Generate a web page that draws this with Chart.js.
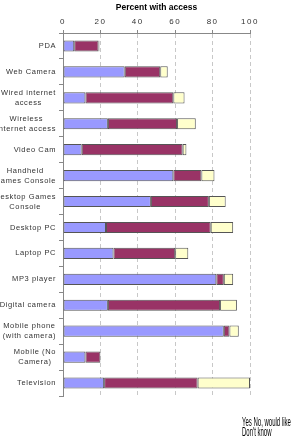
<!DOCTYPE html>
<html lang="en">
<head>
<meta charset="UTF-8" />
<title>Percent with access</title>
<script src="https://cdn.jsdelivr.net/npm/chart.js@4.4.1/dist/chart.umd.min.js"></script>
<style>
  body { margin: 0; background: #fff; }
  #wrap { width: 308px; height: 442px; position: relative; }
</style>
</head>
<body>
<div id="wrap"><canvas id="accessChart"></canvas></div>
<script>
  // categories (top to bottom)
  const devices = [
    'PDA', 'Web Camera', ['Wired internet', 'access'], ['Wireless', 'internet access'],
    'Video Cam', ['Handheld', 'Games Console'], ['Desktop Games', 'Console'],
    'Desktop PC', 'Laptop PC', 'MP3 player', 'Digital camera',
    ['Mobile phone', '(with camera)'], ['Mobile (No', 'Camera)'], 'Television'
  ];
  // series values, percent
  const haveOne  = [6, 33, 12, 24, 10, 59, 47, 23, 27, 82, 24, 86, 12, 22];
  const wantOne  = [13, 19, 47, 37, 54, 15, 31, 56, 33, 4, 60, 3, 8, 50];
  const dontKnow = [0.5, 4, 6, 10, 2, 7, 9, 12, 7, 5, 9, 5, 0, 28];
  const seriesNames = ['Yes', 'No, would like', "Don't know"];
  const xTicks = [0, 20, 40, 60, 80, 100];
  const chartTitle = 'Percent with access';

  const textColor = '#333';

  // y labels: block right-aligned, lines centred in the block (like the original)
  const sideText = {
    id: 'sideText',
    beforeDraw(chart) {
      chart.ctx.letterSpacing = '1.5px';
    },
    afterDraw(chart) {
      const ctx = chart.ctx;
      const y = chart.scales.y;
      const x = chart.scales.x;
      ctx.save();
      ctx.letterSpacing = '0.6px';
      ctx.font = '7.5px "Liberation Sans"';
      ctx.fillStyle = textColor;
      ctx.textAlign = 'center';
      ctx.textBaseline = 'middle';
      devices.forEach((lab, i) => {
        const lines = Array.isArray(lab) ? lab : [lab];
        const w = Math.max(...lines.map(l => ctx.measureText(l).width));
        const cx = y.left + y.width - 7 - w / 2;
        const cy = y.getPixelForValue(i);
        lines.forEach((l, k) => {
          ctx.fillText(l, cx, cy + (k - (lines.length - 1) / 2) * 10);
        });
      });

      // title
      ctx.letterSpacing = '0px';
      ctx.font = 'bold 8.5px "Liberation Sans"';
      ctx.fillStyle = '#000';
      ctx.fillText(chartTitle, (x.left + x.right) / 2, 8);

      // legend squeezed into the bottom corner, as in the source picture
      ctx.translate(242, 423);
      ctx.scale(0.5, 1);
      ctx.font = '12px "Liberation Sans"';
      ctx.textAlign = 'left';
      ctx.fillText(seriesNames[0] + ' ' + seriesNames[1], 0, 0);
      ctx.fillText(seriesNames[2], 0, 10);
      ctx.restore();
    }
  };

  const ctx = document.getElementById('accessChart').getContext('2d');
  new Chart(ctx, {
    type: 'bar',
    data: {
      labels: devices,
      datasets: [
        { label: seriesNames[0], data: haveOne, backgroundColor: '#9999ff' },
        { label: seriesNames[1], data: wantOne, backgroundColor: '#993366' },
        { label: seriesNames[2], data: dontKnow, backgroundColor: '#ffffcc' }
      ].map(d => Object.assign(d, {
        borderColor: '#555', borderWidth: 1, borderSkipped: false,
        categoryPercentage: 1, barPercentage: 0.43
      }))
    },
    options: {
      indexAxis: 'y',
      responsive: true,
      maintainAspectRatio: false,
      animation: false,
      layout: { padding: { top: 0, left: 0, right: 58, bottom: 46 } },
      plugins: {
        legend: { display: false },
        title: { display: false },
        tooltip: { enabled: false }
      },
      scales: {
        x: {
          position: 'top',
          stacked: true,
          min: 0,
          max: 100,
          afterBuildTicks: s => { s.ticks = xTicks.map(v => ({ value: v })); },
          afterFit: s => { s.height = 33; },
          ticks: {
            color: textColor,
            font: { family: 'Liberation Sans', size: 8 },
            padding: 3,
            maxRotation: 0
          },
          grid: {
            color: c => c.tick && c.tick.value === 0 ? 'rgba(0,0,0,0)' : '#c8c8c8',
            tickColor: '#888',
            tickLength: 3
          },
          border: { color: '#888', dash: [4, 3] }
        },
        y: {
          stacked: true,
          afterFit: s => { s.width = 63; },
          ticks: { color: 'rgba(0,0,0,0)', font: { size: 7 } },
          grid: {
            offset: true,
            drawOnChartArea: false,
            tickColor: '#888',
            tickLength: 4
          },
          border: { color: '#888' }
        }
      }
    },
    plugins: [sideText]
  });
</script>
</body>
</html>
